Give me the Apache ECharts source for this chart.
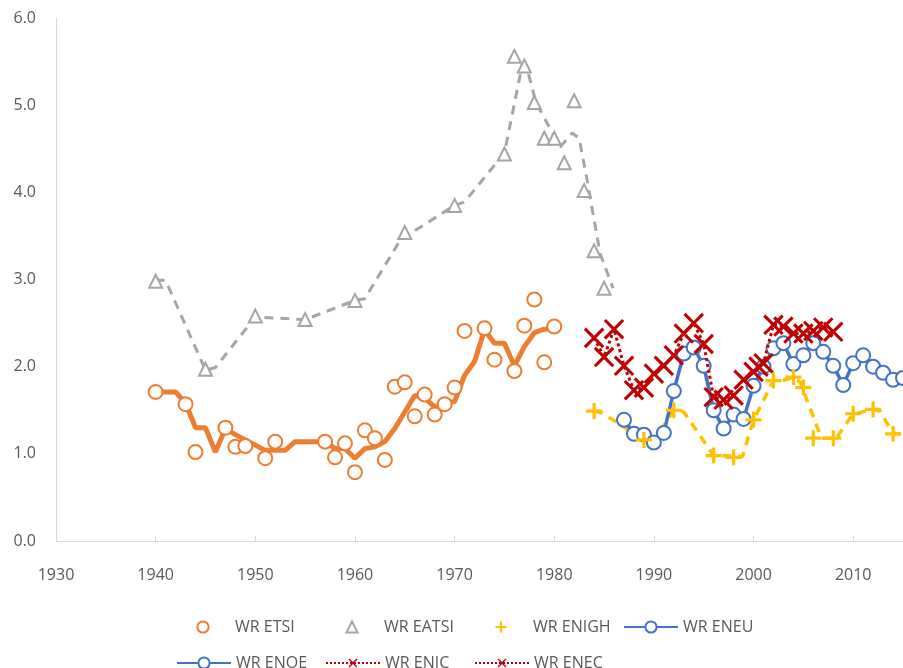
<!DOCTYPE html>
<html lang="en">
<head>
    <meta charset="UTF-8">
    <title>WR series</title>
    <script src="https://cdn.jsdelivr.net/npm/echarts@6/dist/echarts.min.js"></script>
</head>
<body style="margin:0;background:#fff;">
    <div id="main" style="width: 903px;height:668px;"></div>
<script>
    // data: [year, value]
    var etsi = [[1940, 1.71], [1943, 1.57], [1944, 1.02], [1947, 1.30], [1948, 1.08], [1949, 1.09], [1951, 0.95], [1952, 1.14],
        [1957, 1.14], [1958, 0.96], [1959, 1.12], [1960, 0.79], [1961, 1.27], [1962, 1.18], [1963, 0.93], [1964, 1.77],
        [1965, 1.82], [1966, 1.43], [1967, 1.68], [1968, 1.45], [1969, 1.57], [1970, 1.76], [1971, 2.41], [1973, 2.44],
        [1974, 2.08], [1976, 1.95], [1977, 2.47], [1978, 2.77], [1979, 2.05], [1980, 2.46]];
    var etsiLine = [[1940, 1.71], [1942, 1.71], [1943, 1.58], [1944, 1.30], [1945, 1.30], [1946, 1.02], [1947, 1.29], [1948, 1.22],
        [1949, 1.16], [1951, 1.04], [1953, 1.04], [1954, 1.14], [1957, 1.14], [1958, 1.06], [1959, 1.06], [1960, 0.95],
        [1961, 1.06], [1962, 1.08], [1963, 1.14], [1964, 1.29], [1965, 1.48], [1966, 1.67], [1967, 1.64], [1968, 1.54],
        [1969, 1.58], [1970, 1.60], [1971, 1.90], [1972, 2.06], [1973, 2.42], [1974, 2.27], [1975, 2.27], [1976, 2.01],
        [1977, 2.23], [1978, 2.39], [1979, 2.43], [1980, 2.44]];
    var eatsi = [[1940, 2.98], [1945, 1.97], [1950, 2.58], [1955, 2.54], [1960, 2.76], [1965, 3.54], [1970, 3.85], [1975, 4.44],
        [1976, 5.56], [1977, 5.45], [1978, 5.03], [1979, 4.62], [1980, 4.62], [1981, 4.34], [1982, 5.05], [1983, 4.02],
        [1984, 3.33], [1985, 2.90]];
    var eatsiLine = [[1940, 2.99], [1941, 2.99], [1945, 1.96], [1946, 1.99], [1950, 2.57], [1955, 2.54], [1960, 2.76], [1961, 2.78],
        [1965, 3.54], [1966, 3.56], [1970, 3.85], [1971, 3.89], [1975, 4.45], [1976.8, 5.47], [1977.2, 5.45], [1978.2, 5.02],
        [1980.6, 4.52], [1981.8, 4.68], [1982.5, 4.62], [1983.3, 4.14], [1984.6, 3.30], [1985.9, 2.90]];
    var enigh = [[1984, 1.49], [1989, 1.16], [1992, 1.50], [1996, 0.98], [1998, 0.96], [2000, 1.39], [2002, 1.84], [2004, 1.88],
        [2005, 1.76], [2006, 1.18], [2008, 1.18], [2010, 1.46], [2012, 1.51], [2014, 1.23]];
    var enighLine = [[1984, 1.49], [1984.8, 1.47], [1989, 1.16], [1990, 1.15], [1992, 1.50], [1993, 1.48], [1996, 0.98], [1998.9, 0.97],
        [2000, 1.39], [2002, 1.84], [2002.6, 1.83], [2004, 1.88], [2004.7, 1.82], [2006.8, 1.18], [2008.3, 1.18], [2010, 1.46],
        [2010.5, 1.47], [2012, 1.51], [2012.7, 1.49], [2014, 1.23], [2015, 1.23]];
    var eneu = [[1987, 1.39], [1988, 1.23], [1989, 1.22], [1990, 1.13], [1991, 1.24], [1992, 1.72], [1993, 2.15], [1994, 2.22],
        [1995, 2.01], [1996, 1.50], [1997, 1.29], [1998, 1.45], [1999, 1.40], [2000, 1.78], [2001, 2.00], [2002, 2.21],
        [2003, 2.27], [2004, 2.03]];
    var enoe = [[2005, 2.13], [2006, 2.27], [2007, 2.17], [2008, 2.01], [2009, 1.79], [2010, 2.04], [2011, 2.13], [2012, 2.00],
        [2013, 1.93], [2014, 1.85], [2015, 1.87]];
    var enic = [[1984, 2.33], [1985, 2.11], [1986, 2.43], [1987, 2.01], [1988, 1.73], [1989, 1.76], [1990, 1.92], [1991, 2.01],
        [1992, 2.13], [1993, 2.38], [1994, 2.50], [1995, 2.26], [1996, 1.65], [1997, 1.62], [1998, 1.67]];
    var enec = [[1999, 1.85], [2000, 1.94], [2000.5, 2.00], [2001, 2.04], [2002, 2.48], [2003, 2.46], [2004, 2.38], [2005, 2.38],
        [2006, 2.41], [2007, 2.45], [2008, 2.40]];

    var yearTicks = [1930, 2015];
    var legendRows = [['WR ETSI', 'WR EATSI', 'WR ENIGH', 'WR ENEU'], ['WR ENOE', 'WR ENIC', 'WR ENEC']];

    var orange = '#ED7D31', grey = '#A5A5A5', gold = '#FFC000', blue = '#4472C4', red = '#C00000';
    var plusPath = 'path://M4,0h2v4h4v2h-4v4h-2v-4h-4v-2h4z';
    var crossPath = 'path://M4.4,0h1.2v4.4h4.4v1.2h-4.4v4.4h-1.2v-4.4h-4.4v-1.2h4.4z';
    var txt = '#595959';
    var font = '"Open Sans", sans-serif';

    var myChart = echarts.init(document.getElementById('main'));

    // marker-only series are line type with an invisible line so the legend shows just the marker
    function markers(name, data, symbol, size, color, extra) {
        var s = {
            name: name, type: 'line', data: data, symbol: symbol, symbolSize: size,
            lineStyle: { width: 0, opacity: 0 },
            itemStyle: { color: '#fff', borderColor: color, borderWidth: 2 },
            z: 5
        };
        return Object.assign(s, extra || {});
    }

    // one legend per entry so the two rows sit in the same columns
    var legends = [];
    legendRows.forEach(function (row, r) {
        row.forEach(function (name, c) {
            legends.push({
                left: 171 + c * 149, top: 614 + r * 36, itemWidth: 54, itemHeight: 14,
                textStyle: { color: txt, fontSize: 16, fontFamily: font },
                data: [name]
            });
        });
    });

    var option = {
        animation: false,
        grid: { left: 56, right: 0, top: 18, bottom: 127 },
        xAxis: {
            type: 'value', min: yearTicks[0], max: yearTicks[1], interval: 10,
            axisLine: { lineStyle: { color: '#D9D9D9', width: 1 } },
            axisTick: { inside: true, length: 5, lineStyle: { color: '#D9D9D9' } },
            axisLabel: { color: txt, fontSize: 16, fontFamily: font, margin: 26, showMaxLabel: false,
                formatter: function (v) { return String(v); } },
            splitLine: { show: false }
        },
        yAxis: {
            type: 'value', min: 0, max: 6, interval: 1,
            axisLine: { show: true, lineStyle: { color: '#D9D9D9', width: 1 } },
            axisTick: { show: false },
            axisLabel: { color: txt, fontSize: 16, fontFamily: font, margin: 20, formatter: function (v) { return v.toFixed(1); } },
            splitLine: { show: false }
        },
        legend: legends,
        series: [
            { type: 'line', data: etsiLine, symbol: 'none', lineStyle: { color: orange, width: 5 }, z: 3 },
            { type: 'line', data: eatsiLine, symbol: 'none', lineStyle: { color: grey, width: 3, type: [9, 7] }, z: 3 },
            { type: 'line', data: enighLine, symbol: 'none', lineStyle: { color: gold, width: 3.5, type: [9, 7] }, z: 3 },
            markers('WR ETSI', etsi, 'circle', 14, orange),
            markers('WR EATSI', eatsi, 'triangle', 13, grey),
            markers('WR ENIGH', enigh, plusPath, 16, gold, { itemStyle: { color: gold, borderWidth: 0 } }),
            {
                name: 'WR ENEU', type: 'line', data: eneu, symbol: 'circle', symbolSize: 14,
                lineStyle: { color: blue, width: 3.5 }, itemStyle: { color: '#fff', borderColor: blue, borderWidth: 2 }, z: 4
            },
            {
                name: 'WR ENOE', type: 'line', data: enoe, symbol: 'circle', symbolSize: 14,
                lineStyle: { color: blue, width: 3.5 }, itemStyle: { color: '#fff', borderColor: blue, borderWidth: 2 }, z: 4
            },
            {
                name: 'WR ENIC', type: 'line', data: enic, symbol: crossPath, symbolSize: 26, symbolRotate: 45,
                lineStyle: { color: red, width: 3, type: 'dotted' }, itemStyle: { color: red, borderWidth: 0 }, z: 6
            },
            {
                name: 'WR ENEC', type: 'line', data: enec, symbol: crossPath, symbolSize: 26, symbolRotate: 45,
                lineStyle: { color: red, width: 3, type: 'dotted' }, itemStyle: { color: red, borderWidth: 0 }, z: 6
            }
        ]
    };

    option && myChart.setOption(option);
</script>
</body>
</html>
